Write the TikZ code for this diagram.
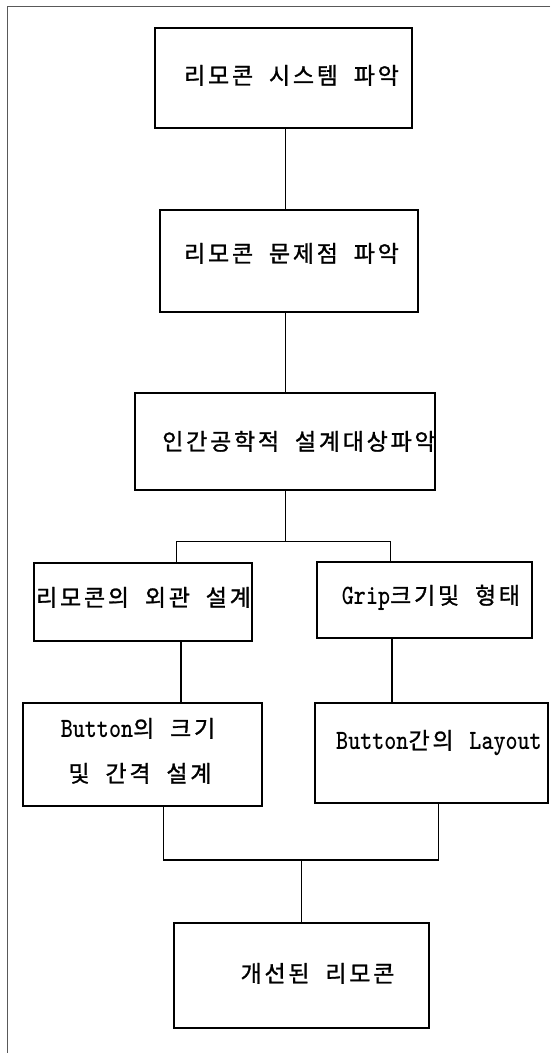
\documentclass[tikz,border=0pt]{standalone}
\usepackage{fontspec}
\usepackage{graphicx}
\newfontfamily\kr[LetterSpace=12,WordSpace=2,FakeBold=1.2]{Noto Sans CJK KR}
\newcommand\lat[1]{\scalebox{0.82}[1]{\ttfamily\bfseries\fontsize{28}{30}\selectfont #1}}
\tikzset{
  stepbox/.style={draw=black, line width=1.3pt, inner sep=0pt, fill=none},
  conn/.style={draw=black, line width=1.2pt},
  lbl/.style={anchor=base, inner sep=0pt, font=\kr\fontsize{23}{27}\selectfont},
  frame/.style={draw=black!65, line width=0.9pt}
}
\begin{document}
\begin{tikzpicture}[x=1pt,y=-1pt]
\useasboundingbox (0,0) rectangle (550,1053);
\fill[white] (0,0) rectangle (550,1053);
\draw[frame] (550,6) -- (7.5,6) -- (7.5,1053);

% boxes
\node[stepbox, minimum width=257pt, minimum height=100pt] (b1) at (283.5,78) {};
\node[stepbox, minimum width=258pt, minimum height=102pt] (b2) at (289,261) {};
\node[stepbox, minimum width=300pt, minimum height=97pt] (b3) at (285,441.5) {};
\node[stepbox, minimum width=218pt, minimum height=78pt] (b4) at (143,602) {};
\node[stepbox, minimum width=215pt, minimum height=76pt] (b5) at (424.5,600) {};
\node[stepbox, minimum width=239pt, minimum height=103pt] (b6) at (142.5,754.5) {};
\node[stepbox, minimum width=233pt, minimum height=100pt] (b7) at (431.5,753) {};
\node[stepbox, minimum width=255pt, minimum height=105pt] (b8) at (301.5,975.5) {};

% labels
\node[lbl] (t1) at (291.5,84) {리모콘 시스템 파악};
\node[lbl] (t2) at (291.5,262) {리모콘 문제점 파악};
\node[lbl] (t3) at (299,450) {인간공학적 설계대상파악};
\node[lbl] (t4) at (143.5,606) {리모콘의 외관 설계};
\node[lbl] (t5) at (431,604) {\lat{Grip}크기및 형태};
\node[lbl] (t6a) at (138,737) {\lat{Button}의 크기};
\node[lbl] (t6b) at (140,782) {및 간격 설계};
\node[lbl] (t7) at (439,749) {\lat{Button}간의 \lat{Layout}};
\node[lbl] (t8) at (317.5,982) {개선된 리모콘};

% junctions
\coordinate (j1) at (285.5,541.7);
\coordinate (jl) at (176.7,541.7);
\coordinate (jr) at (390.7,541.7);
\coordinate (kl) at (163.3,860);
\coordinate (kr) at (438.3,860);
\coordinate (k1) at (301.5,860);

% connectors
\draw[conn] (b1.south -| j1) -- (b2.north -| j1);
\draw[conn] (b2.south -| j1) -- (b3.north -| j1);
\draw[conn] (b3.south -| j1) -- (j1);
\draw[conn] (b4.north -| jl) -- (jl) -- (jr) -- (b5.north -| jr);
\draw[conn] ([xshift=38pt]b4.south) -- ([xshift=38pt]b4.south |- b6.north);
\draw[conn] ([xshift=-32.5pt]b5.south) -- ([xshift=-32.5pt]b5.south |- b7.north);
\draw[conn] (b6.south -| kl) -- (kl) -- (kr) -- (b7.south -| kr);
\draw[conn] (k1) -- (b8.north);
\end{tikzpicture}
\end{document}
